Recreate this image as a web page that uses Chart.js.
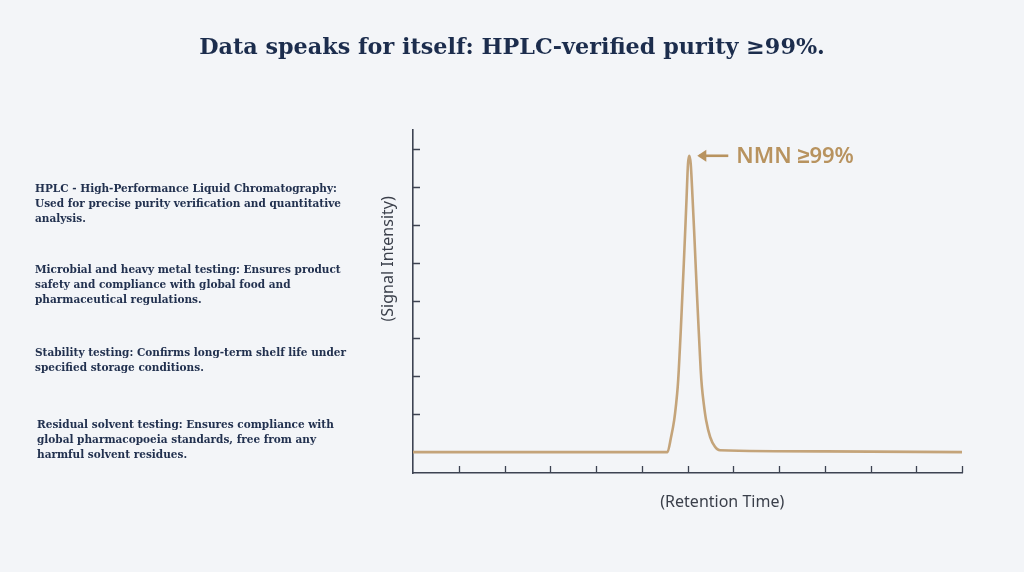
<!DOCTYPE html>
<html>
<head>
<meta charset="utf-8">
<script src="https://cdn.jsdelivr.net/npm/chart.js@4.4.1/dist/chart.umd.min.js"></script>
<style>
  html, body { margin:0; padding:0; background:#f3f5f8; }
  #wrap { position:relative; width:1024px; height:572px; overflow:hidden; }
  #myChart { position:absolute; left:0; top:0; }
  h1 { position:absolute; left:0; width:1024px; top:33px; margin:0; text-align:center;
       font-family:"DejaVu Serif", serif; font-weight:bold; font-size:22.3px; color:#1c2d4d; }
  .note { position:absolute; margin:0; font-family:"DejaVu Serif", serif; font-weight:bold;
          font-size:10.5px; line-height:15px; color:#22314f; width:340px; }
</style>
</head>
<body>
<div id="wrap">
  <canvas id="myChart" width="1024" height="572"></canvas>
  <h1>Data speaks for itself: HPLC-verified purity ≥99%.</h1>
  <p class="note" style="left:35px;top:181px">HPLC - High-Performance Liquid Chromatography:<br>Used for precise purity verification and quantitative<br>analysis.</p>
  <p class="note" style="left:35px;top:262px">Microbial and heavy metal testing: Ensures product<br>safety and compliance with global food and<br>pharmaceutical regulations.</p>
  <p class="note" style="left:35px;top:345px">Stability testing: Confirms long-term shelf life under<br>specified storage conditions.</p>
  <p class="note" style="left:37px;top:417px">Residual solvent testing: Ensures compliance with<br>global pharmacopoeia standards, free from any<br>harmful solvent residues.</p>
</div>
<script>
// chromatogram trace (retention time, signal)
var rtime  = [0, 3, 5.561, 5.641, 5.708, 5.752, 5.786, 5.809, 5.831, 5.853, 5.886, 5.919, 5.950, 5.980, 6.011, 6.039,
              6.070, 6.110, 6.145, 6.177, 6.210, 6.245, 6.267, 6.289, 6.315, 6.355, 6.407, 6.495, 6.601, 6.710, 9, 12];
var signal = [0, 0, 0, 0.40, 0.84, 1.28, 1.72, 2.16, 2.68, 3.21, 4.09, 4.97, 5.84, 6.72, 7.61, 7.82,
              7.61, 6.72, 5.84, 4.97, 4.09, 3.21, 2.68, 2.16, 1.72, 1.28, 0.84, 0.40, 0.14, 0.05, 0.02, 0];
var xticks = [1,2,3,4,5,6,7,8,9,10,11,12];
var yticks = [1,2,3,4,5,6,7,8];
var peakLabel = "NMN ≥99%";
var xTitle = "(Retention Time)";
var yTitle = "(Signal Intensity)";

const AXIS = "#3d4352";
const GOLD = "#c4a47a";
const LABEL = "#b8935f";

var pts = [];
for (let ii = 0; ii < rtime.length; ii++) {
  pts.push({x: rtime[ii], y: signal[ii]});
}

// ticks drawn inward, axis titles and the peak callout
const decor = {
  id: "decor",
  afterDraw(chart) {
    const c = chart.ctx;
    const xs = chart.scales.x, ys = chart.scales.y;
    const area = chart.chartArea;
    c.save();
    c.strokeStyle = AXIS;
    c.lineWidth = 1.3;
    c.beginPath();
    for (const v of xticks) {
      const px = Math.round(xs.getPixelForValue(v)) + 0.5;
      c.moveTo(px, area.bottom);
      c.lineTo(px, area.bottom - 7);
    }
    for (const v of yticks) {
      const py = Math.round(ys.getPixelForValue(v)) + 0.5;
      c.moveTo(area.left, py);
      c.lineTo(area.left + 7, py);
    }
    c.stroke();

    c.fillStyle = "#3a3f4a";
    c.font = '16px "Noto Sans", sans-serif';
    c.textAlign = "center";
    c.textBaseline = "middle";
    c.fillText(xTitle, xs.getPixelForValue(6.76), area.bottom + 29);
    c.save();
    c.translate(area.left - 25, ys.getPixelForValue(5.1));
    c.rotate(-Math.PI / 2);
    c.fillText(yTitle, 0, 0);
    c.restore();

    // callout
    let imax = 0;
    for (let ii = 1; ii < signal.length; ii++) if (signal[ii] > signal[imax]) imax = ii;
    const tx = xs.getPixelForValue(rtime[imax]) + 8;
    const ty = ys.getPixelForValue(signal[imax]);
    c.strokeStyle = LABEL;
    c.fillStyle = LABEL;
    c.lineWidth = 2.6;
    c.beginPath();
    c.moveTo(tx + 2, ty);
    c.lineTo(tx + 31, ty);
    c.stroke();
    c.beginPath();
    c.moveTo(tx, ty);
    c.lineTo(tx + 9, ty - 6);
    c.lineTo(tx + 9, ty + 6);
    c.closePath();
    c.fill();
    c.font = '600 22px "Noto Sans", sans-serif';
    c.textAlign = "left";
    c.fillText(peakLabel, tx + 39, ty + 1);
    c.restore();
  }
};

const ctx = document.getElementById("myChart");
const myChart = new Chart(ctx, {
  type: "line",
  data: {
    datasets: [{
      label: "HPLC",
      data: pts,
      borderColor: GOLD,
      borderWidth: 2.6,
      pointRadius: 0,
      fill: false,
      cubicInterpolationMode: "monotone"
    }]
  },
  options: {
    responsive: false,
    animation: false,
    layout: { padding: { left: 413, right: 62, top: 130, bottom: 99 } },
    plugins: { legend: { display: false }, tooltip: { enabled: false } },
    scales: {
      x: {
        type: "linear", min: 0, max: 12,
        grid: { display: false, drawTicks: false },
        border: { display: true, color: AXIS, width: 1.6 },
        ticks: { display: false }
      },
      y: {
        type: "linear", min: -0.55, max: 8.5,
        grid: { display: false, drawTicks: false },
        border: { display: true, color: AXIS, width: 1.6 },
        ticks: { display: false },
        afterBuildTicks: (axis) => { axis.ticks = yticks.map(v => ({value: v})); }
      }
    }
  },
  plugins: [decor]
});
</script>
</body>
</html>
